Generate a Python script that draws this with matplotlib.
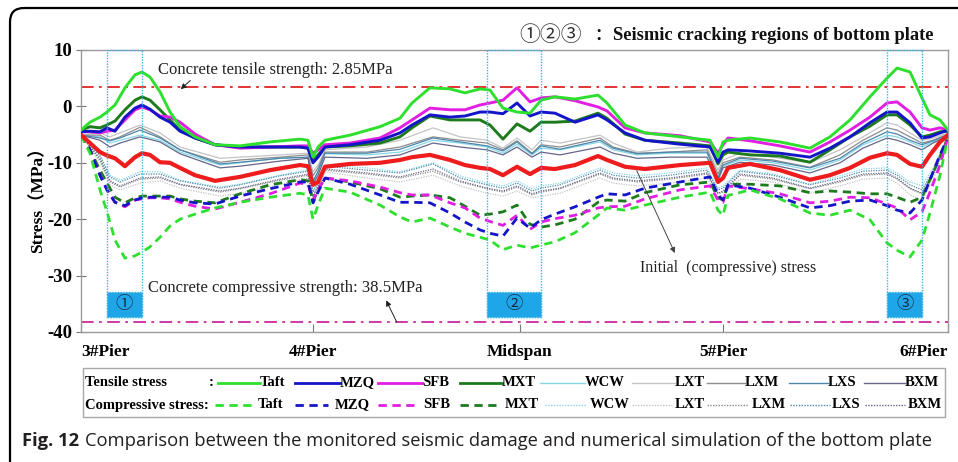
import matplotlib
matplotlib.use('Agg')
import matplotlib.pyplot as plt
from matplotlib.patches import FancyBboxPatch, Rectangle

# ---------------- data ----------------
# position along the bottom plate (3#Pier = 0, 6#Pier = 100)
x_main = [0.0, 1.04, 2.19, 3.00, 3.92, 5.07, 6.23, 7.04, 7.96, 9.11, 10.27, 11.42, 13.15, 15.46,
          18.34, 21.80, 25.26, 26.18, 26.76, 27.34, 28.14, 31.03, 34.49, 36.79, 38.18, 40.25,
          42.56, 44.29, 46.02, 47.17, 48.67, 50.29, 51.79, 53.06, 54.67, 56.98, 59.63, 60.67,
          62.75, 65.05, 69.09, 72.55, 73.47, 74.05, 74.63, 77.16, 80.62, 84.08, 86.39, 88.70,
          91.00, 92.96, 94.12, 95.62, 97.00, 97.92, 99.08, 100.0]

x_thin = [0.0, 2.19, 3.34, 4.50, 6.81, 9.11, 11.42, 16.03, 18.34, 22.95, 26.18, 26.76, 27.34,
          28.14, 32.99, 36.79, 40.60, 43.71, 46.83, 48.67, 50.29, 52.02, 53.06, 55.25, 59.86,
          61.36, 64.13, 67.94, 72.20, 73.47, 74.05, 76.01, 79.82, 84.08, 87.54, 90.20, 92.96,
          94.12, 95.62, 97.00, 98.27, 100.0]

# tensile stress (solid lines)
taft_t = [-4.2, -2.8, -1.9, -1.0, 0.25, 3.3, 5.6, 6.1, 5.2, 2.6, -1.0, -3.6, -5.4, -6.8, -7.0,
          -6.3, -5.8, -6.0, -9.0, -7.2, -6.0, -5.1, -3.6, -2.1, 0.6, 3.3, 3.1, 2.4, 3.1, 2.9,
          -0.3, -1.0, -1.2, 1.1, 1.7, 1.3, 2.0, 0.6, -3.3, -4.7, -5.4, -6.0, -9.0, -6.3, -6.0,
          -5.6, -6.3, -7.4, -5.4, -2.4, 1.7, 5.0, 6.8, 6.1, 1.5, -1.5, -2.4, -4.2]
mzq_t = [-4.5, -4.4, -4.5, -3.8, -4.4, -1.9, -0.3, 0.25, -0.5, -1.9, -2.8, -4.4, -5.6, -6.8,
         -7.2, -7.2, -7.2, -7.4, -10.0, -9.0, -7.2, -6.8, -6.0, -4.7, -3.3, -1.5, -1.9, -1.7,
         -1.0, -1.0, -1.3, 0.6, -1.7, -1.0, -1.2, -2.8, -1.5, -2.4, -4.7, -6.0, -6.7, -7.2,
         -9.9, -8.1, -7.7, -7.9, -8.3, -9.0, -7.4, -5.4, -2.9, -1.0, -1.0, -2.9, -5.6, -5.4,
         -4.7, -4.2]
sfb_t = [-4.5, -4.5, -4.7, -4.4, -4.2, -2.4, -0.6, -0.1, -0.6, -1.7, -1.9, -2.8, -4.9, -6.8,
         -7.4, -7.2, -7.0, -7.0, -8.3, -7.7, -6.8, -6.5, -5.6, -3.8, -2.4, -0.3, -0.6, -0.6,
         0.25, 0.6, 1.1, 3.3, 0.8, 1.5, 1.7, 1.0, -0.1, -0.8, -3.8, -4.7, -5.2, -6.3, -8.3,
         -6.8, -5.6, -6.1, -7.0, -8.1, -6.3, -4.2, -1.9, 0.6, 0.8, -1.0, -3.8, -4.2, -3.8, -4.2]
mxt_t = [-4.2, -3.6, -3.8, -3.3, -2.6, -0.6, 1.1, 1.7, 1.1, -0.6, -2.4, -4.2, -5.6, -6.8,
         -7.2, -7.2, -7.2, -7.4, -9.7, -8.6, -7.2, -7.0, -6.5, -5.4, -3.8, -1.7, -2.4, -2.4,
         -2.4, -3.3, -5.8, -3.1, -4.4, -2.8, -2.8, -2.6, -1.2, -2.1, -4.9, -6.0, -6.5, -7.0,
         -10.2, -8.6, -8.1, -8.6, -8.8, -9.9, -7.7, -5.4, -3.5, -1.5, -1.5, -3.3, -5.4, -5.1,
         -4.5, -4.4]
wcw_t = [-5.1, -5.4, -6.5, -6.0, -5.1, -6.0, -8.1, -10.4, -10.0, -9.2, -9.0, -13.1, -11.6,
         -8.4, -8.6, -8.1, -6.0, -6.5, -7.2, -8.3, -6.7, -8.6, -7.4, -7.7, -6.3, -7.7, -8.6,
         -8.3, -8.3, -12.5, -10.6, -9.5, -10.0, -11.3, -9.5, -6.8, -5.1, -5.4, -6.3, -7.2,
         -6.3, -5.1]
lxt_t = [-5.1, -4.7, -5.4, -4.7, -3.3, -4.7, -7.2, -9.2, -9.0, -8.6, -8.3, -11.6, -10.4,
         -7.7, -7.2, -6.0, -3.8, -5.4, -6.0, -7.4, -5.6, -7.7, -6.0, -6.5, -5.1, -6.5, -8.1,
         -7.4, -7.2, -11.3, -9.5, -8.3, -9.0, -10.0, -7.7, -5.4, -2.9, -3.3, -4.7, -6.0,
         -5.6, -4.7]
lxm_t = [-5.1, -5.1, -6.0, -5.4, -3.7, -5.4, -7.7, -9.9, -9.5, -9.0, -8.6, -12.3, -10.9,
         -8.1, -8.1, -7.2, -5.4, -6.0, -6.5, -7.7, -6.1, -8.3, -6.8, -7.2, -5.6, -7.2, -8.3,
         -8.1, -7.7, -12.0, -10.0, -9.0, -9.5, -10.8, -8.6, -6.0, -3.8, -4.2, -5.4, -6.5,
         -6.0, -4.9]
lxs_t = [-5.1, -5.6, -6.1, -5.6, -4.2, -5.6, -7.7, -10.2, -9.9, -9.2, -9.0, -13.4, -11.5,
         -8.3, -8.3, -7.6, -5.6, -6.3, -7.0, -7.9, -6.3, -8.4, -7.0, -7.6, -6.0, -7.4, -8.4,
         -8.1, -8.1, -12.7, -10.4, -9.2, -9.7, -10.9, -9.2, -6.5, -4.5, -4.9, -6.0, -6.8,
         -6.1, -5.1]
bxm_t = [-5.1, -6.0, -7.2, -6.5, -5.4, -6.3, -8.4, -10.9, -10.6, -9.7, -9.2, -13.8, -12.2,
         -9.0, -9.2, -8.6, -6.5, -7.2, -7.7, -8.6, -7.2, -9.0, -8.1, -8.6, -7.2, -8.3, -9.2,
         -9.0, -9.0, -13.1, -10.9, -9.9, -10.4, -11.8, -10.0, -7.4, -5.6, -6.0, -6.8, -7.7,
         -6.5, -5.3]

# initial (compressive) stress
initial = [-5.07, -6.5, -8.1, -8.7, -9.2, -10.6, -9.0, -8.3, -8.6, -9.9, -10.0, -10.9, -12.2,
           -13.2, -12.5, -11.3, -10.4, -10.6, -13.9, -13.4, -10.7, -10.2, -10.0, -9.5, -9.0,
           -8.6, -9.5, -10.4, -10.9, -11.1, -12.2, -10.7, -12.0, -10.9, -11.1, -10.4, -8.8,
           -9.5, -10.7, -11.1, -10.4, -10.0, -13.4, -12.7, -10.9, -10.2, -11.3, -13.0, -12.2,
           -10.9, -9.1, -8.3, -8.6, -10.2, -10.7, -8.6, -6.3, -5.07]

# compressive stress (dashed / dotted lines)
taft_c = [-5.1, -8.3, -14.8, -18.7, -23.7, -26.9, -26.5, -25.8, -24.9, -23.2, -21.2, -20.0,
          -19.1, -18.0, -17.0, -16.1, -15.4, -15.7, -20.0, -17.5, -14.5, -15.2, -17.5, -19.6,
          -20.5, -19.8, -21.4, -22.5, -23.2, -23.7, -25.4, -24.6, -25.1, -24.6, -24.0, -22.4,
          -19.3, -18.0, -18.4, -17.5, -16.1, -15.2, -18.4, -19.3, -15.8, -14.8, -16.4, -18.9,
          -19.3, -18.4, -20.1, -24.2, -25.5, -26.7, -23.7, -18.9, -12.2, -5.4]
mzq_c = [-5.1, -7.7, -12.2, -14.8, -17.0, -17.6, -16.6, -16.2, -16.1, -16.1, -16.1, -16.6,
         -17.1, -17.3, -15.9, -14.6, -13.4, -13.4, -17.1, -15.2, -12.7, -13.8, -15.7, -17.0,
         -17.0, -17.1, -18.9, -20.5, -21.9, -22.5, -23.0, -19.8, -21.6, -20.1, -19.1, -17.8,
         -16.1, -15.5, -15.7, -14.5, -13.4, -12.5, -15.7, -16.6, -13.9, -14.5, -16.1, -18.0,
         -17.6, -16.8, -16.6, -17.6, -18.4, -18.9, -16.6, -13.0, -8.6, -5.4]
sfb_c = [-5.1, -7.7, -12.2, -14.8, -17.0, -17.8, -16.6, -16.4, -16.2, -16.2, -16.4, -17.0,
         -17.7, -18.2, -17.0, -15.5, -13.6, -13.8, -16.6, -14.8, -12.7, -13.2, -14.3, -15.3,
         -15.7, -15.7, -17.1, -18.0, -19.8, -20.4, -21.1, -19.3, -21.8, -20.5, -19.9, -19.3,
         -18.0, -17.8, -17.7, -16.4, -14.8, -14.1, -16.6, -17.0, -14.1, -14.6, -15.5, -17.1,
         -16.8, -16.1, -16.2, -17.3, -18.0, -20.1, -18.7, -15.2, -10.4, -5.4]
mxt_c = [-5.1, -7.7, -11.3, -13.6, -16.1, -17.1, -16.2, -15.9, -15.9, -15.9, -15.9, -16.4,
         -16.8, -17.1, -15.5, -13.9, -13.0, -13.2, -16.9, -14.8, -12.7, -13.4, -14.6, -16.1,
         -15.9, -15.7, -16.2, -17.7, -19.3, -19.1, -18.7, -17.5, -20.9, -21.4, -21.0, -20.0,
         -17.0, -16.6, -16.8, -15.3, -13.9, -13.4, -16.2, -16.6, -13.8, -13.8, -14.1, -15.3,
         -15.0, -15.2, -15.5, -15.5, -16.1, -17.0, -16.1, -13.0, -9.0, -5.4]
wcw_c = [-5.1, -8.6, -12.2, -13.1, -11.6, -11.6, -13.1, -14.3, -13.8, -12.2, -11.3, -14.8,
         -13.4, -10.4, -10.9, -11.6, -10.0, -12.3, -13.6, -14.1, -13.2, -14.6, -14.1, -13.6,
         -10.9, -11.8, -12.3, -11.8, -10.9, -14.5, -14.1, -11.3, -12.0, -13.8, -12.3, -11.1,
         -10.9, -11.8, -13.4, -14.1, -10.9, -5.4]
lxt_c = [-5.1, -9.9, -13.9, -14.8, -13.6, -13.2, -14.5, -15.9, -15.4, -13.8, -12.7, -16.6,
         -14.8, -11.6, -12.7, -13.4, -12.2, -14.1, -15.4, -15.9, -15.0, -16.2, -15.9, -15.4,
         -12.7, -13.6, -14.1, -13.6, -12.7, -16.1, -15.7, -12.9, -13.4, -15.4, -14.1, -12.9,
         -12.7, -13.6, -15.7, -16.6, -13.1, -5.4]
lxm_c = [-5.1, -9.5, -13.4, -14.3, -12.9, -12.7, -13.9, -15.2, -14.6, -13.1, -12.2, -16.1,
         -14.3, -11.3, -12.0, -12.7, -11.5, -13.4, -14.6, -15.2, -14.3, -15.7, -15.2, -14.6,
         -12.0, -12.9, -13.4, -12.9, -12.0, -15.5, -15.2, -12.2, -12.9, -14.6, -13.4, -12.2,
         -12.0, -12.9, -14.6, -15.5, -12.2, -5.4]
lxs_c = [-5.1, -8.8, -12.5, -13.4, -12.0, -12.0, -13.2, -14.5, -13.9, -12.3, -11.5, -15.2,
         -13.6, -10.6, -11.3, -11.8, -10.2, -12.7, -13.9, -14.5, -13.6, -15.0, -14.5, -13.9,
         -11.3, -12.2, -12.7, -12.2, -11.3, -14.8, -14.5, -11.5, -12.2, -13.9, -12.7, -11.5,
         -11.3, -12.2, -13.9, -14.8, -11.5, -5.4]
bxm_c = [-5.1, -9.3, -13.2, -14.1, -12.7, -12.5, -13.8, -15.0, -14.5, -12.9, -12.0, -15.9,
         -14.1, -11.1, -11.8, -12.5, -11.1, -13.2, -14.5, -15.0, -14.1, -15.5, -15.0, -14.5,
         -11.8, -12.7, -13.2, -12.7, -11.8, -15.4, -15.0, -12.0, -12.7, -14.5, -13.2, -12.0,
         -11.8, -12.7, -14.5, -15.4, -12.0, -5.4]

tick_pos = [0, 26.8, 50.6, 74.05, 100]
tick_labels = ['3#Pier', '4#Pier', 'Midspan', '5#Pier', '6#Pier']
y_ticks = [10, 0, -10, -20, -30, -40]
tensile_level = 3.45          # drawn position of the 2.85 MPa line
compressive_level = -38.2     # drawn position of the 38.5 MPa line
regions = [(3.0, 7.0), (46.8, 53.1), (93.0, 97.0)]
region_labels = ['①', '②', '③']
region_box = (-37.3, -32.9)
names = ['Taft', 'MZQ', 'SFB', 'MXT', 'WCW', 'LXT', 'LXM', 'LXS', 'BXM']
colors = ['#2ee02e', '#1414c8', '#e21ee2', '#1d7a1d', '#86d8e6', '#c4c4c4', '#8c8c8c',
          '#4d86aa', '#66668a']

# ---------------- figure ----------------
SERIF = ['Liberation Serif', 'DejaVu Serif']
CIRC = ['Noto Sans CJK SC', 'DejaVu Sans']
W, H = 958, 462
fig = plt.figure(figsize=(W / 100, H / 100), dpi=100)
fig.patch.set_facecolor('white')

bg = fig.add_axes([0, 0, 1, 1], zorder=0)
bg.set_xlim(0, W)
bg.set_ylim(H, 0)
bg.axis('off')
bg.add_patch(FancyBboxPatch((10, 8), 1100, 700, boxstyle='round,pad=0,rounding_size=14',
                            fc='none', ec='black', lw=1.6))

L, R, T, B = 81, 948, 50, 332
ax = fig.add_axes([L / W, 1 - B / H, (R - L) / W, (B - T) / H], zorder=2)
ax.set_xlim(0, 100)
ax.set_ylim(-40, 10)
for s in ax.spines.values():
    s.set_color('#9a9a9a')
    s.set_linewidth(1.0)

t_series = [taft_t, mzq_t, sfb_t, mxt_t]
c_series = [taft_c, mzq_c, sfb_c, mxt_c]
t_thin = [wcw_t, lxt_t, lxm_t, lxs_t, bxm_t]
c_thin = [wcw_c, lxt_c, lxm_c, lxs_c, bxm_c]

for vals, col in zip(c_thin, colors[4:]):
    ax.plot(x_thin, vals, color=col, lw=0.9, ls=(0, (1, 1)), zorder=3)
for vals, col in zip(t_thin, colors[4:]):
    ax.plot(x_thin, vals, color=col, lw=0.9, zorder=3)
for vals, col in zip(c_series[::-1], colors[:4][::-1]):
    ax.plot(x_main, vals, color=col, lw=2.0, ls=(0, (3, 2)), zorder=4)
ax.plot(x_main, initial, color='#ee1c1c', lw=3.0, solid_joinstyle='round', zorder=5)
for vals, col in zip(t_series[::-1], colors[:4][::-1]):
    ax.plot(x_main, vals, color=col, lw=2.1, solid_joinstyle='round', zorder=6)

ax.axhline(tensile_level, color='#e02424', lw=1.3, ls=(0, (7, 3, 1.5, 3)), zorder=2)
ax.axhline(compressive_level, color='#cc2a9a', lw=1.3, ls=(0, (7, 3, 1.5, 3)), zorder=2)

for (x0, x1), lab in zip(regions, region_labels):
    ax.add_patch(Rectangle((x0, region_box[0]), x1 - x0, 10 - region_box[0], fc='none',
                           ec='#3cb4e6', lw=1.0, ls=(0, (1, 1)), zorder=7, clip_on=False))
    ax.add_patch(Rectangle((x0, region_box[0]), x1 - x0, region_box[1] - region_box[0],
                           fc='#1ea6e8', ec='#3cb4e6', lw=1.0, ls=(0, (1, 1)), zorder=7))
    ax.text((x0 + x1) / 2, sum(region_box) / 2, lab, family=CIRC, fontsize=12.5,
            color='#1c2a44', ha='center', va='center', zorder=8)

ax.set_xticks(tick_pos)
ax.set_xticklabels(tick_labels, family=SERIF, fontweight='bold', fontsize=12.5)
xl = ax.get_xticklabels()
xl[0].set_ha('left')
xl[-1].set_ha('right')
ax.tick_params(axis='x', direction='in', length=6, pad=9, color='#777777')
ax.set_yticks(y_ticks)
ax.set_yticklabels([str(v) for v in y_ticks], family=SERIF, fontweight='bold', fontsize=13.5)
ax.tick_params(axis='y', direction='inout', length=7, pad=3, color='#777777')

# annotations
ax.annotate('Concrete tensile strength: 2.85MPa', xy=(11.5, tensile_level - 0.4),
            xytext=(8.9, 6.5), family=SERIF, fontsize=12, color='#222222', va='center',
            arrowprops=dict(arrowstyle='-|>', color='#222222', lw=0.7, mutation_scale=8,
                            shrinkA=0, shrinkB=0, relpos=(0.15, 0)), zorder=9)
ax.annotate('', xy=(35.2, -34.4), xytext=(36.4, compressive_level),
            arrowprops=dict(arrowstyle='-|>', color='#222222', lw=0.7, mutation_scale=8,
                            shrinkA=0, shrinkB=0), zorder=9)
ax.text(7.7, -32.2, 'Concrete compressive strength: 38.5MPa', family=SERIF, fontsize=12,
        color='#222222', va='center', zorder=9)
ax.annotate('', xy=(68.5, -26.0), xytext=(64.1, -11.4),
            arrowprops=dict(arrowstyle='-|>', color='#444444', lw=0.7, mutation_scale=8,
                            shrinkA=0, shrinkB=0), zorder=9)
ax.text(64.5, -28.7, 'Initial  (compressive) stress', family=SERIF, fontsize=11.5,
        color='#222222', va='center', zorder=9)

# title line
bg.text(519, 35, '①②③', family=CIRC, fontsize=15, color='#333333', va='center', ha='left')
bg.text(594, 35, '：', family=CIRC, fontsize=12, fontweight='bold', color='#111111',
        va='center', ha='left')
bg.text(613, 35, 'Seismic cracking regions of bottom plate', family=SERIF, fontsize=13.3,
        fontweight='bold', color='#111111', va='center', ha='left')

# y label
bg.text(38, 196, 'Stress（MPa）', family=['Liberation Serif', 'Noto Sans CJK SC'],
        fontsize=12.5, fontweight='bold', rotation=90, ha='center', va='center')

# legend
bg.add_patch(Rectangle((83, 368), 862, 49, fc='white', ec='#a8a8a8', lw=1.0))
r1, r2 = 383, 405
bg.text(85, r1, 'Tensile stress', family=SERIF, fontweight='bold', fontsize=10.5, va='center')
bg.text(209, r1, ':', family=SERIF, fontweight='bold', fontsize=10.5, va='center')
bg.text(85, r2, 'Compressive stress:', family=SERIF, fontweight='bold', fontsize=10.5,
        va='center')
row1 = ([218, 295, 378, 460, 540, 632, 707, 789, 864],
        [260, 340, 422, 502, 585, 675, 745, 828, 905],
        [260, 340, 422, 502, 585, 675, 745, 828, 905])
row2 = ([215, 295, 378, 460, 545, 632, 707, 790, 865],
        [252, 328, 414, 496, 586, 672, 748, 830, 905],
        [258, 335, 423, 505, 590, 675, 752, 832, 908])
for i, (nm, col) in enumerate(zip(names, colors)):
    big = i < 4
    bg.plot([row1[0][i], row1[1][i]], [r1, r1], color=col, lw=2.0 if big else 1.0)
    bg.text(row1[2][i], r1, nm, family=SERIF, fontweight='bold', fontsize=10.5, va='center')
    bg.plot([row2[0][i], row2[1][i]], [r2, r2], color=col, lw=2.0 if big else 1.0,
            ls=(0, (3, 2)) if big else (0, (1, 1)))
    bg.text(row2[2][i], r2, nm, family=SERIF, fontweight='bold', fontsize=10.5, va='center')

# caption
fig.canvas.draw()
t1 = bg.text(22, 441, 'Fig. 12', family=['Open Sans', 'DejaVu Sans'], fontweight='bold',
             fontsize=13.2, color='#231f20', va='center')
fig.canvas.draw()
bb = t1.get_window_extent()
bg.text(bb.x1 + 6, 441, 'Comparison between the monitored seismic damage and numerical '
        'simulation of the bottom plate', family=['Open Sans', 'DejaVu Sans'],
        fontsize=13.2, color='#231f20', va='center')

fig.savefig('out.png', dpi=100)
